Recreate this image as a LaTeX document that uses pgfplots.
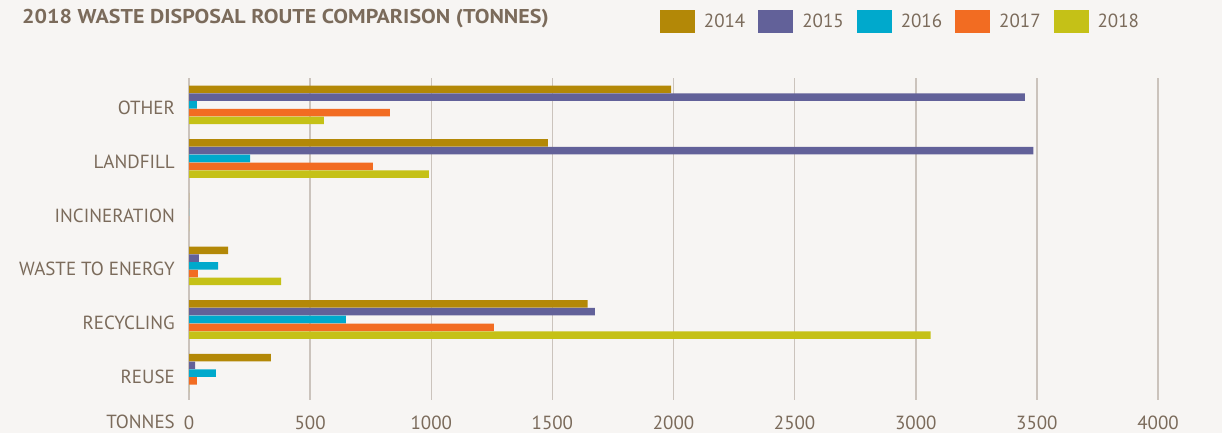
\documentclass[border=0pt]{standalone}
\usepackage{pgfplots}
\pgfplotsset{compat=1.18}
\usepackage{pgfplotstable}
\usepackage{fontspec}
\setmainfont{PT Sans}

\definecolor{bgcol}{HTML}{F7F5F3}
\definecolor{txtcol}{HTML}{7B6B5B}
\definecolor{gridcol}{HTML}{CBC3BC}
\definecolor{c2014}{HTML}{B38807}
\definecolor{c2015}{HTML}{626199}
\definecolor{c2016}{HTML}{00A9CC}
\definecolor{c2017}{HTML}{F26C22}
\definecolor{c2018}{HTML}{C5C117}

% pos: 5 = OTHER (top) ... 0 = REUSE (bottom)
\pgfplotstableread{
pos y2014 y2015 y2016 y2017 y2018
5   1990  3450  33    829   557
4   1481  3486  252   759   990
3   0     0     0     0     0
2   161   41    120   37    380
1   1646  1675  648   1258  3061
0   338   25    111   33    0
}\wastedata

\begin{document}
\begin{tikzpicture}
\path[use as bounding box, fill=bgcol] (0pt,0pt) rectangle (1222pt,433pt);

\node[anchor=base west, text=txtcol, font=\fontsize{20}{24}\selectfont\bfseries, inner sep=0pt]
  at (22pt,409pt) {\scalebox{1.1}[1]{2018 WASTE DISPOSAL ROUTE COMPARISON (TONNES)}};
\node[anchor=base east, text=txtcol, font=\fontsize{19}{22}\selectfont, inner sep=0pt]
  at (175pt,4pt) {TONNES};

\begin{axis}[
  at={(189pt,33pt)}, anchor=south west,
  scale only axis,
  width=969pt, height=322pt,
  xbar,
  bar width=0.14,
  xmin=0, xmax=4000,
  ymin=-0.5, ymax=5.5,
  xtick={0,500,...,4000},
  ytick={0,1,2,3,4,5},
  yticklabels={REUSE,RECYCLING,WASTE TO ENERGY,INCINERATION,LANDFILL,OTHER},
  axis line style={draw=none},
  major tick length=0pt,
  xmajorgrids,
  grid style={draw=gridcol, line width=1.5pt},
  scaled ticks=false,
  /pgf/number format/assume math mode=true,
  /pgf/number format/1000 sep={},
  tick label style={text=txtcol, font=\fontsize{19}{22}\selectfont, inner sep=0pt},
  xticklabel style={anchor=base, yshift=-29pt},
  yticklabel style={anchor=base east, xshift=-14pt, yshift=-10pt},
  legend columns=5,
  legend image code/.code={\fill[#1] (0pt,-11.5pt) rectangle (35pt,11.5pt);},
  legend style={draw=none, fill=none, inner sep=0pt, outer sep=0pt,
    at={(0.486,1.1755)}, anchor=west,
    font=\fontsize{19}{22}\selectfont, text=txtcol,
    nodes={inner sep=0pt},
    /tikz/every odd column/.append style={column sep=9pt},
    /tikz/every even column/.append style={column sep=13pt}},
]
\addplot[fill=c2014, draw=none, bar shift=0.29] table[x=y2014, y=pos] {\wastedata};
\addplot[fill=c2015, draw=none, bar shift=0.145] table[x=y2015, y=pos] {\wastedata};
\addplot[fill=c2016, draw=none, bar shift=0] table[x=y2016, y=pos] {\wastedata};
\addplot[fill=c2017, draw=none, bar shift=-0.145] table[x=y2017, y=pos] {\wastedata};
\addplot[fill=c2018, draw=none, bar shift=-0.29] table[x=y2018, y=pos] {\wastedata};
\legend{2014,2015,2016,2017,2018}
\end{axis}
\end{tikzpicture}
\end{document}
